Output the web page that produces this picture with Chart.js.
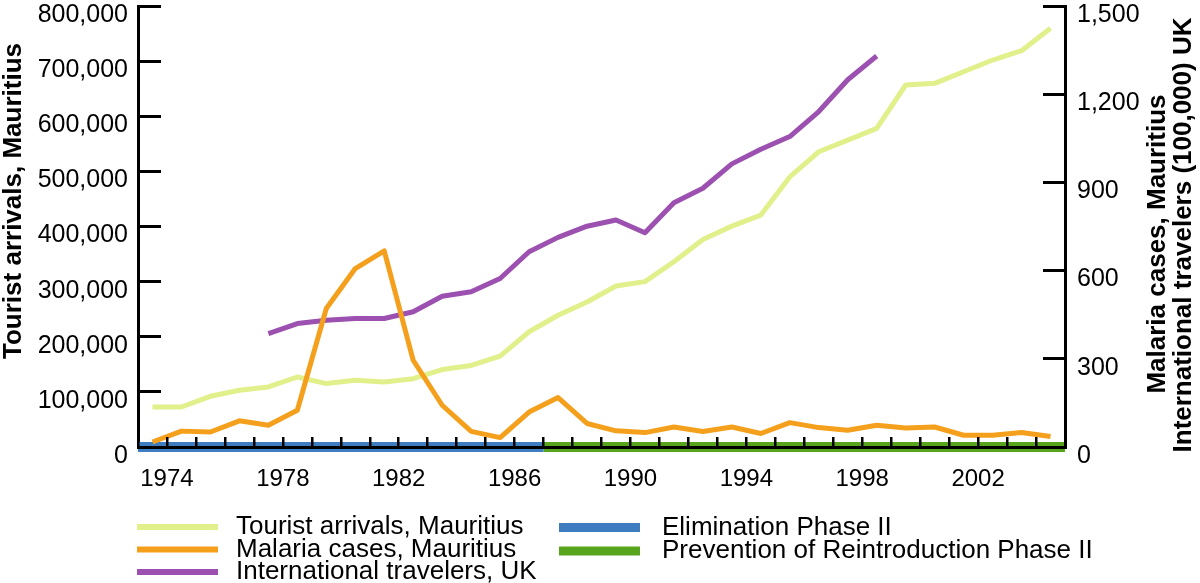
<!DOCTYPE html>
<html>
<head>
<meta charset="utf-8">
<script src="https://cdn.jsdelivr.net/npm/chart.js@4.4.1/dist/chart.umd.min.js"></script>
<style>
  html, body { margin: 0; padding: 0; background: #fff; }
  #wrap { position: relative; width: 1200px; height: 583px; }
</style>
</head>
<body>
<div id="wrap"><canvas id="myChart"></canvas></div>
<script>
'use strict';

// values
let years = [1974, 1975, 1976, 1977, 1978, 1979, 1980, 1981, 1982, 1983, 1984, 1985, 1986, 1987, 1988, 1989,
  1990, 1991, 1992, 1993, 1994, 1995, 1996, 1997, 1998, 1999, 2000, 2001, 2002, 2003, 2004, 2005];
let touristArrivals = [72600, 72600, 92000, 103000, 109000, 127000, 115000, 121000, 118000, 124000, 140500,
  148000, 165000, 209000, 239000, 263000, 292000, 300000, 336000, 376500, 400700, 420700, 490000, 535600,
  556800, 578000, 656700, 659700, 680800, 702000, 719000, 759600];
let malariaCases = [17, 54, 51, 89, 74, 125, 471, 607, 667, 295, 142, 53, 32, 119, 168, 80, 55, 49, 68, 53,
  68, 46, 83, 66, 57, 74, 65, 68, 40, 40, 49, 36];
let ukYears = [1978, 1979, 1980, 1981, 1982, 1983, 1984, 1985, 1986, 1987, 1988, 1989, 1990, 1991, 1992,
  1993, 1994, 1995, 1996, 1997, 1998, 1999];
let ukTravelers = [386, 420, 431, 437, 437, 460, 513, 528, 573, 664, 713, 751, 772, 729, 831, 880, 963, 1013,
  1056, 1141, 1249, 1330];
let eliminationPhase = [1973, 1987];
let preventionPhase = [1987, 2005];
let yearLabels = [1974, 1978, 1982, 1986, 1990, 1994, 1998, 2002];

const FONT = '"Liberation Sans", Arial, Helvetica, sans-serif';

// each year is drawn in the middle of the band that ends at its tick
function toPoints(xs, ys) {
  return xs.map((yr, i) => ({ x: yr - 0.5, y: ys[i] }));
}
function phasePoints(range) {
  return range.map(yr => ({ x: yr, y: 0 }));
}

const legendPlugin = {
  id: 'boxLegend',
  afterDraw(chart) {
    let ctx = chart.ctx;
    let ds = chart.data.datasets;
    let series = [ds[1], ds[0], ds[2]];
    let phases = [ds[3], ds[4]];
    ctx.save();
    ctx.font = '26px ' + FONT;
    ctx.textBaseline = 'middle';
    ctx.fillStyle = '#000';
    ctx.lineCap = 'butt';
    series.forEach((d, i) => {
      let y = 527 + i * 22.5;
      ctx.strokeStyle = d.borderColor;
      ctx.lineWidth = 6;
      ctx.beginPath();
      ctx.moveTo(137, y);
      ctx.lineTo(218, y);
      ctx.stroke();
      ctx.fillText(d.label, 236, y);
    });
    phases.forEach((d, i) => {
      let y = 527.5 + i * 23.5;
      ctx.strokeStyle = d.borderColor;
      ctx.lineWidth = 9;
      ctx.beginPath();
      ctx.moveTo(559, y);
      ctx.lineTo(640, y);
      ctx.stroke();
      ctx.fillText(d.label, 662, y);
    });
    ctx.restore();
  }
};

const titlePlugin = {
  id: 'axisTitles',
  afterDraw(chart) {
    let ctx = chart.ctx;
    function vertical(text, x, y) {
      ctx.save();
      ctx.translate(x, y);
      ctx.rotate(-Math.PI / 2);
      ctx.fillText(text, 0, 0);
      ctx.restore();
    }
    ctx.save();
    ctx.font = 'bold 26px ' + FONT;
    ctx.fillStyle = '#000';
    ctx.textAlign = 'center';
    ctx.textBaseline = 'middle';
    vertical('Tourist arrivals, Mauritius', 14, 201);
    vertical('Malaria cases, Mauritius', 1158, 244);
    vertical('International travelers (100,000) UK', 1184, 235);
    ctx.restore();
  }
};

const chartData = {
  datasets: [
    {
      label: 'Malaria cases, Mauritius',
      data: toPoints(years, malariaCases),
      yAxisID: 'y1',
      borderColor: '#f5a01d',
      order: 0,
    },
    {
      label: 'Tourist arrivals, Mauritius',
      data: toPoints(years, touristArrivals),
      yAxisID: 'y',
      borderColor: '#e2f08c',
      order: 1,
    },
    {
      label: 'International travelers, UK',
      data: toPoints(ukYears, ukTravelers),
      yAxisID: 'y1',
      borderColor: '#9c50b0',
      order: 2,
    },
    {
      label: 'Elimination Phase II',
      data: phasePoints(eliminationPhase),
      yAxisID: 'y',
      borderColor: '#3d7dc0',
      borderWidth: 10,
      clip: false,
      order: 3,
    },
    {
      label: 'Prevention of Reintroduction Phase II',
      data: phasePoints(preventionPhase),
      yAxisID: 'y',
      borderColor: '#58a51d',
      borderWidth: 10,
      clip: false,
      order: 3,
    },
  ],
};

const config = {
  type: 'line',
  data: chartData,
  plugins: [legendPlugin, titlePlugin],
  options: {
    responsive: true,
    maintainAspectRatio: false,
    animation: false,
    events: [],
    locale: 'en-US',
    layout: { padding: { top: 6, left: 0, right: 0, bottom: 0 } },
    elements: {
      point: { radius: 0 },
      line: { borderWidth: 5, tension: 0, fill: false, borderJoinStyle: 'round', borderCapStyle: 'butt' },
    },
    plugins: {
      legend: { display: false },
      tooltip: { enabled: false },
    },
    scales: {
      x: {
        type: 'linear',
        position: 'bottom',
        min: 1973,
        max: 2005,
        ticks: {
          stepSize: 1,
          autoSkip: false,
          maxRotation: 0,
          color: '#000',
          font: { family: FONT, size: 24 },
          padding: 28,
          callback: (v) => (yearLabels.includes(v) ? String(v) : ''),
        },
        grid: { drawOnChartArea: false, tickLength: -10, lineWidth: 2.5, color: '#000', z: 1 },
        border: { color: '#000', width: 3, z: 1 },
        afterFit(scale) {
          scale.height = 136;
          scale.paddingLeft = 0;
          scale.paddingRight = 0;
        },
      },
      y: {
        position: 'left',
        min: 0,
        max: 800000,
        ticks: {
          stepSize: 100000,
          color: '#000',
          font: { family: FONT, size: 25 },
          padding: 33,
          labelOffset: 9,
        },
        grid: { drawOnChartArea: false, tickLength: -23, lineWidth: 3, color: '#000' },
        border: { color: '#000', width: 3 },
        afterFit(scale) {
          scale.width = 138;
          scale.paddingTop = 0;
          scale.paddingBottom = 0;
        },
      },
      y1: {
        position: 'right',
        min: 0,
        max: 1500,
        ticks: {
          stepSize: 300,
          color: '#000',
          font: { family: FONT, size: 25 },
          padding: 34,
          labelOffset: 9,
        },
        grid: { drawOnChartArea: false, tickLength: -22, lineWidth: 3, color: '#000' },
        border: { color: '#000', width: 3 },
        afterFit(scale) {
          scale.width = 135;
          scale.paddingTop = 0;
          scale.paddingBottom = 0;
        },
      },
    },
  },
};

let chartCanvas = document.getElementById('myChart').getContext('2d');
const myChart = new Chart(chartCanvas, config);
</script>
</body>
</html>
